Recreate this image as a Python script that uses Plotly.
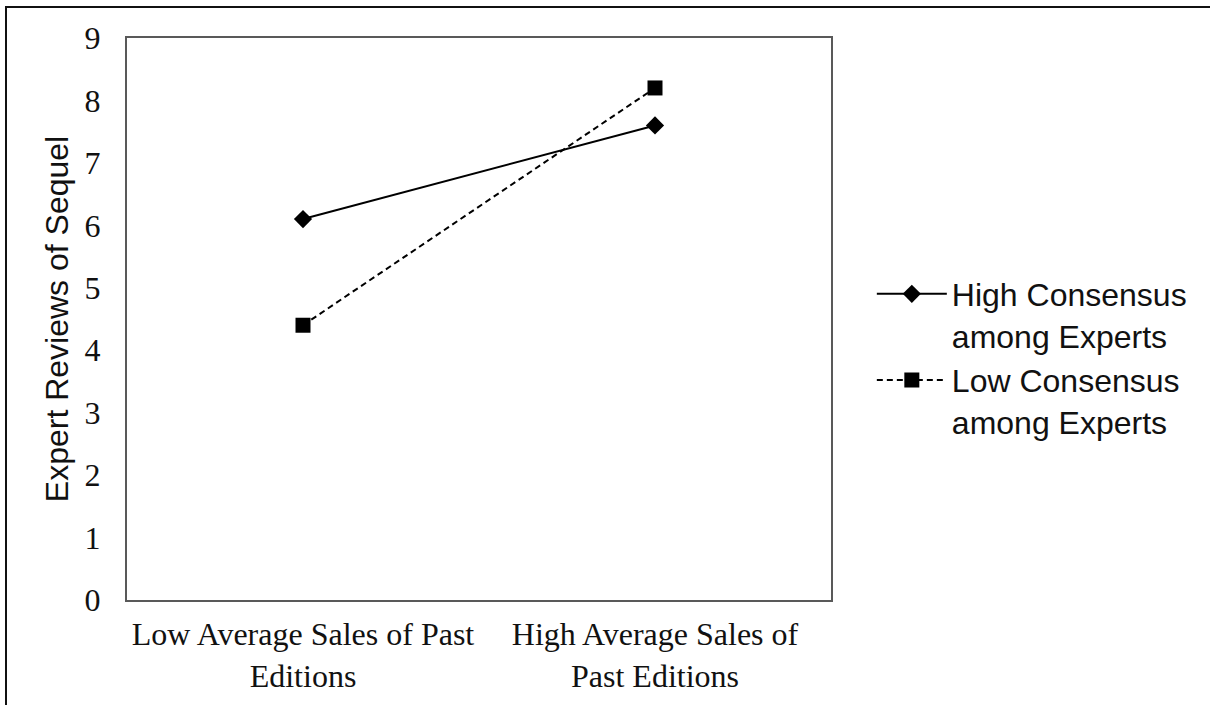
import plotly.graph_objects as go

# Interaction plot: expert reviews by past sales and expert consensus
categories = ["Low Average Sales of Past<br>Editions", "High Average Sales of<br>Past Editions"]
high_consensus = [6.1, 7.6]
low_consensus = [4.4, 8.2]
series_names = ["High Consensus<br>among Experts", "Low Consensus<br>among Experts"]
y_ticks = [0, 1, 2, 3, 4, 5, 6, 7, 8, 9]

W, H = 1210, 705
L, R, T, B = 127, 379, 38, 105
pw, ph = W - L - R, H - T - B

serif = "Liberation Serif, Times New Roman, serif"
sans = "Liberation Sans, Arial, sans-serif"

fig = go.Figure()
fig.add_trace(go.Scatter(
    x=categories, y=high_consensus, name=series_names[0], mode="lines+markers",
    line=dict(color="black", width=2, dash="solid"),
    marker=dict(symbol="diamond", size=14, color="black"),
))
fig.add_trace(go.Scatter(
    x=categories, y=low_consensus, name=series_names[1], mode="lines+markers",
    line=dict(color="black", width=2, dash="6px,4px"),
    marker=dict(symbol="square", size=15, color="black"),
))

# outer frame around the figure
fig.add_shape(
    type="rect", xref="paper", yref="paper",
    x0=(6 - L) / pw, x1=(W + 20 - L) / pw,
    y0=-(H + 20 - T - ph) / ph, y1=1 + (T - 7) / ph,
    line=dict(color="#111111", width=2), layer="above",
)

fig.update_layout(
    width=W, height=H,
    margin=dict(l=L, r=R, t=T, b=B),
    paper_bgcolor="white", plot_bgcolor="white",
    showlegend=True,
    legend=dict(
        x=1.058, xanchor="left", y=1 - (358 - T) / ph, yanchor="middle",
        xref="paper", yref="paper", valign="top",
        font=dict(family=sans, size=32, color="#111111"),
        itemwidth=70, tracegroupgap=0,
        bgcolor="rgba(0,0,0,0)",
    ),
    xaxis=dict(
        type="category", range=[-0.5, 1.5],
        showgrid=False, zeroline=False,
        showline=True, linecolor="#595959", linewidth=2, mirror=True,
        ticks="", ticklabelstandoff=5,
        tickfont=dict(family=serif, size=32, color="#111111"),
    ),
    yaxis=dict(
        range=[0, 9], tickvals=y_ticks,
        showgrid=False, zeroline=False,
        showline=True, linecolor="#595959", linewidth=2, mirror=True,
        ticks="", ticklabelstandoff=18,
        tickfont=dict(family=serif, size=32, color="#111111"),
        title=dict(text="Expert Reviews of Sequel", standoff=6,
                   font=dict(family=sans, size=32, color="#111111")),
    ),
)

fig.write_html("out.html")
